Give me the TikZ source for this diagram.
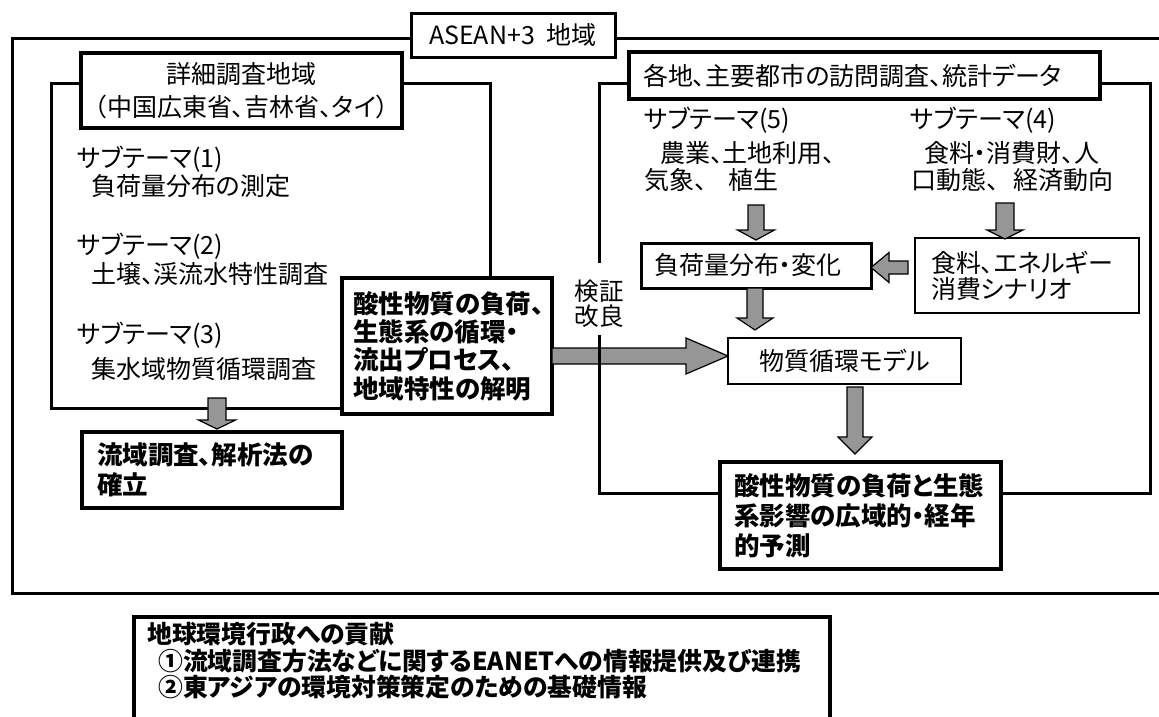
\documentclass[tikz,border=0pt]{standalone}
\usepackage{fontspec}
\setmainfont{Noto Sans CJK JP}[RawFeature={+palt}]
\usetikzlibrary{calc}
\definecolor{arrowgray}{RGB}{150,150,150}
\tikzset{
  frame/.style={draw=black, line width=3pt},
  box/.style={draw=black, fill=white, rectangle, inner ysep=0pt, line width=3pt},
  heavy/.style={box, line width=4.3pt},
  txt/.style={font=\fontsize{25}{28}\selectfont},
  btxt/.style={font=\fontsize{25.5}{28.3}\selectfont\bfseries},
  lbl/.style={inner sep=0pt, anchor=west, font=\fontsize{25}{28}\selectfont},
  clbl/.style={inner sep=0pt, anchor=west, font=\fontsize{24.8}{26}\selectfont\bfseries},
  barrow/.style={draw=black, fill=arrowgray, line width=1.2pt, line join=miter},
}
% block arrow: start coord, end coord, shaft half width, head half width, head length (pt)
\newcommand\myblockarrow[5]{%
  \pgfpointdiff{\pgfpointanchor{#1}{center}}{\pgfpointanchor{#2}{center}}%
  \pgfgetlastxy{\bdx}{\bdy}%
  \pgfmathsetmacro\bLen{veclen(\bdx,\bdy)}%
  \pgfmathsetmacro\bAng{atan2(\bdy,\bdx)}%
  \draw[barrow, shift={(#1)}, rotate=\bAng]
    (0pt,#3pt) -- (\bLen pt-#5pt,#3pt) -- (\bLen pt-#5pt,#4pt) -- (\bLen pt,0pt)
    -- (\bLen pt-#5pt,-#4pt) -- (\bLen pt-#5pt,-#3pt) -- (0pt,-#3pt) -- cycle;
}
\begin{document}
\begin{tikzpicture}[x=1pt,y=-1pt]
\useasboundingbox (0,0) rectangle (1159,716);
% frames
\draw[frame] (12,38) rectangle (1185,593);
\draw[frame] (51,83) rectangle (490,408);
\draw[frame] (599,263) -- (599,83) -- (1150,83) -- (1150,493) -- (599,493) -- (599,335);

% label boxes
\node[box, txt, minimum width=204pt, minimum height=44pt, inner xsep=0pt] (asean) at (513,35) {ASEAN+3\hspace{12pt}地域};
\node[heavy, align=center, text width=300pt, inner xsep=10.5pt, minimum height=75pt,
      font=\fontsize{25}{33}\selectfont] (detail) at (241.5,90.5) {詳細調査地域\\（中国広東省、吉林省、タイ）};
\node[box, line width=3.5pt, txt, align=left, text width=443pt, inner xsep=14pt, minimum height=47pt] (rlabel) at (864.5,75.5) {各地、主要都市の訪問調査、統計データ};

% sub-theme texts (left)
\node[lbl] (s1a) at (77,159) {サブテーマ(1)};
\node[lbl] (s1b) at (91,186) {負荷量分布の測定};
\node[lbl] (s2a) at (77,246) {サブテーマ(2)};
\node[lbl] (s2b) at (91,274) {土壌、渓流水特性調査};
\node[lbl] (s3a) at (77,335) {サブテーマ(3)};
\node[lbl] (s3b) at (91,369) {集水域物質循環調査};
% sub-theme texts (right)
\node[lbl] (s5a) at (644,120) {サブテーマ(5)};
\node[lbl] (s5b) at (660,153) {農業、土地利用、};
\node[lbl] (s5c) at (644,180) {気象、\hspace{22pt}植生};
\node[lbl] (s4a) at (910,120) {サブテーマ(4)};
\node[lbl] (s4b) at (924,153) {食料・消費財、人};
\node[lbl] (s4c) at (911,180) {口動態、\hspace{15pt}経済動向};

% verification label
\node[inner sep=0pt, align=center, font=\fontsize{24.5}{25}\selectfont] (verify) at (599,303.5) {検証\\改良};

% main boxes
\node[heavy, btxt, align=left, text width=188pt, inner xsep=11pt, minimum height=136pt] (acid) at (447,346) {酸性物質の負荷、\\生態系の循環・\\流出プロセス、\\地域特性の解明};
\node[heavy, align=left, text width=230pt, inner xsep=15pt, minimum height=76pt,
      font=\fontsize{25.5}{30}\selectfont\bfseries] (basin) at (212,470) {流域調査、解析法の\\確立};
\node[heavy, align=left, text width=253pt, inner xsep=14pt, minimum height=107pt,
      font=\fontsize{25.5}{30}\selectfont\bfseries] (pred) at (860.5,515.5) {酸性物質の負荷と生態\\系影響の広域的・経年\\的予測};
\node[box, txt, align=left, text width=204pt, inner xsep=13pt, minimum height=45pt] (load) at (756,265.5) {負荷量分布・変化};
\node[box, line width=2.8pt, align=left, text width=192pt, inner xsep=16pt, minimum height=75pt,
      font=\fontsize{25}{26}\selectfont] (food) at (1027,275.5) {食料、エネルギー\\消費シナリオ};
\node[box, line width=2.8pt, txt, align=center, text width=233pt, inner xsep=0pt, minimum height=46pt] (model) at (844.5,361) {物質循環モデル};

% bottom contribution box
\node[heavy, minimum width=696pt, minimum height=145pt, anchor=north west] (contrib) at (132,615) {};
\node[clbl] (c1) at (147,634) {地球環境行政への貢献};
\node[clbl] (c2) at (158,661) {①流域調査方法などに関するEANETへの情報提供及び連携};
\node[clbl] (c3) at (158,687) {②東アジアの環境対策策定のための基礎情報};

% arrow end points
\coordinate (a1s) at (217,398);  \coordinate (a1e) at (217,429);
\coordinate (a2s) at (756,205);  \coordinate (a2e) at (756,240);
\coordinate (a3s) at (1005,203); \coordinate (a3e) at (1005,239);
\coordinate (a4s) at (908,267.5); \coordinate (a4e) at (871,267.5);
\coordinate (a5s) at (755,288);  \coordinate (a5e) at (755,330);
\coordinate (a6s) at (552,356);  \coordinate (a6e) at (728,356);
\coordinate (a7s) at (855,387);  \coordinate (a7e) at (855,454);

\myblockarrow{a1s}{a1e}{9}{18.5}{9}
\myblockarrow{a2s}{a2e}{8}{18.5}{10}
\myblockarrow{a3s}{a3e}{9}{18}{9}
\myblockarrow{a4s}{a4e}{6.5}{15}{18}
\myblockarrow{a5s}{a5e}{8}{18}{12}
\myblockarrow{a6s}{a6e}{8}{18}{42}
\myblockarrow{a7s}{a7e}{8}{17}{17}

% frame line crossing over the big arrow
\draw[frame] (599,335) -- (599,400);
\end{tikzpicture}
\end{document}
